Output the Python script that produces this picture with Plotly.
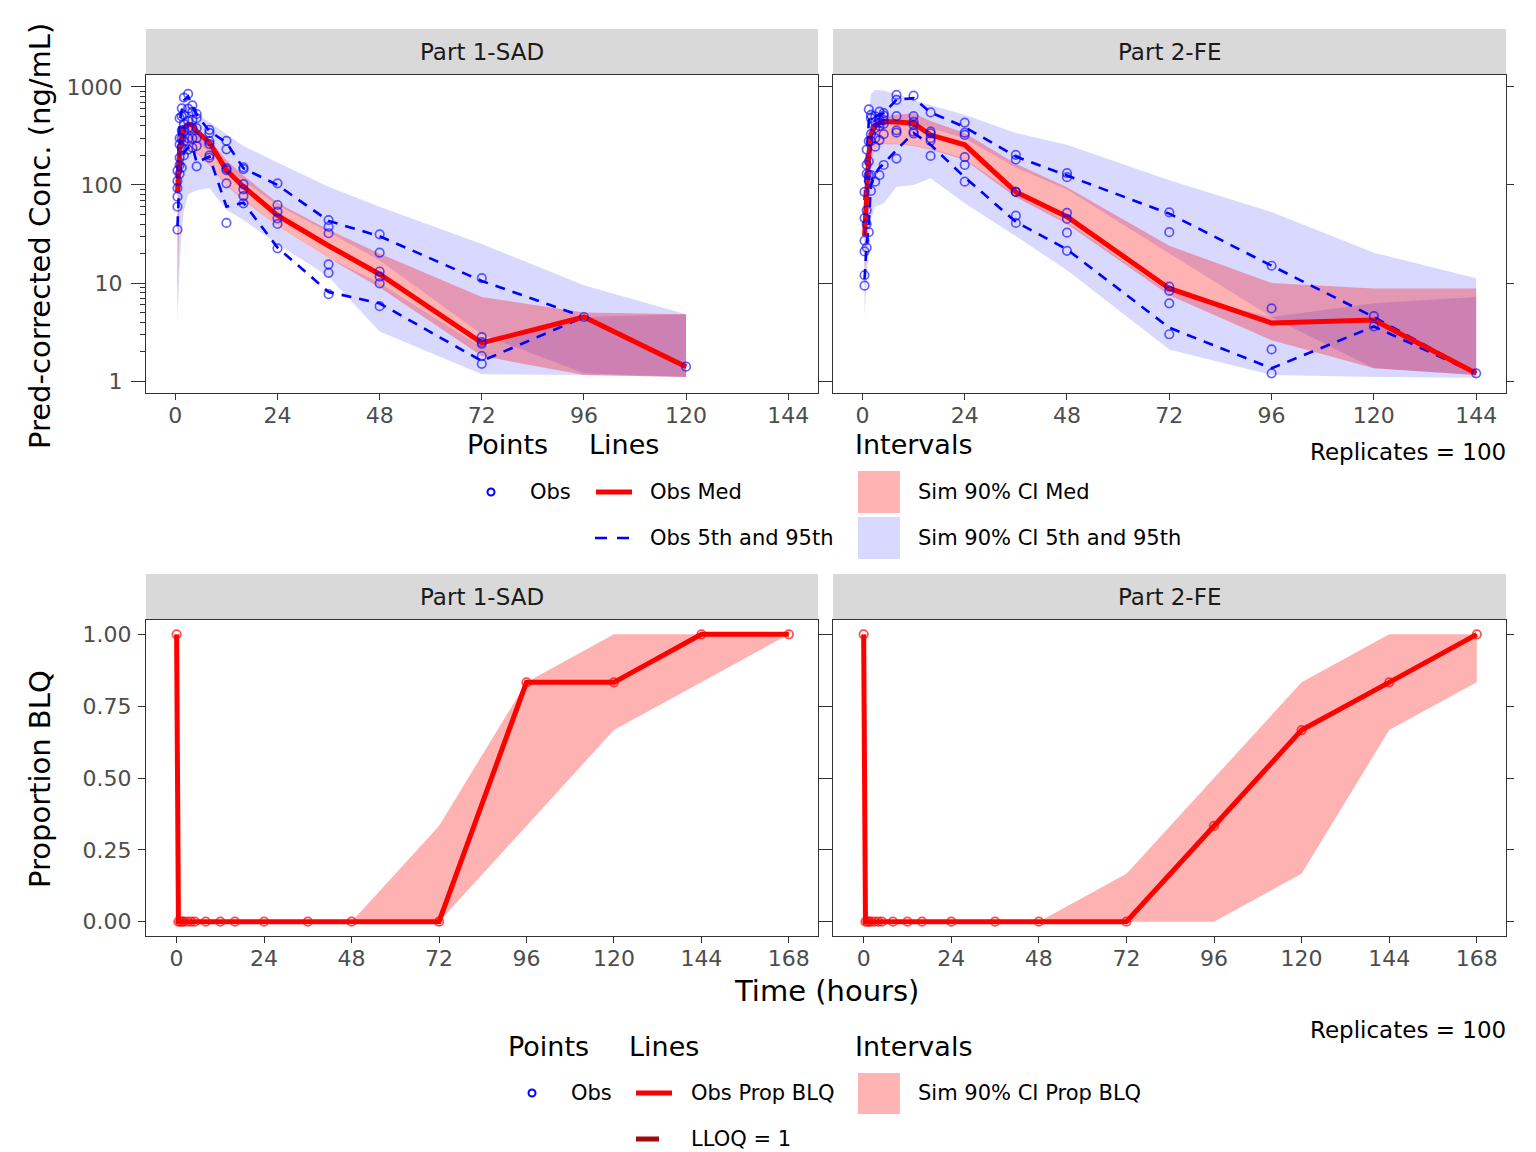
import plotly.graph_objects as go

W, H = 1536, 1152
FONT = "DejaVu Sans"

# ---------------- data: Part 1-SAD (observed) ----------------
p1_obs_times = [0.5, 1, 1.5, 2, 3, 4, 5, 8, 12, 16, 24, 36, 48, 72, 96, 120]
p1_obs_values = [
    [35, 60, 76, 93, 110, 140],
    [130, 160, 190, 260, 300, 480],
    [150, 240, 300, 360, 500, 605],
    [200, 280, 350, 420, 520, 780],
    [230, 300, 380, 450, 600, 850],
    [240, 300, 380, 460, 560, 650],
    [155, 250, 300, 380, 480, 530],
    [190, 200, 262, 280, 340, 365],
    [41, 104, 142, 148, 231, 282],
    [65, 77, 90, 102, 145, 151],
    [22.6, 40, 45.7, 53.5, 62.5, 104],
    [7.7, 12.7, 15.5, 32.2, 37.5, 43.8],
    [5.8, 9.9, 11.6, 13.1, 20.4, 31.4],
    [1.5, 1.8, 2.4, 2.5, 2.8, 11.2],
    [4.5],
    [1.4],
]
p1_obs_med = [85, 225, 330, 385, 415, 410, 355, 271, 142, 96, 49, 24, 12.3, 2.45, 4.5, 1.4]
p1_obs_q95 = [135, 420, 580, 730, 800, 640, 520, 355, 270, 148, 100, 43, 30, 10.5, 4.5, 1.4]
p1_obs_q5 = [38, 135, 170, 215, 240, 250, 170, 195, 60, 66, 23, 8.1, 6.2, 1.6, 4.5, 1.4]

# simulated 90% CIs, Part 1
p1_sim_times = [0.5, 1, 1.5, 2, 3, 4, 5, 8, 12, 16, 24, 36, 48, 72, 96, 120]
p1_hi95 = [200, 450, 600, 680, 650, 600, 540, 440, 330, 250, 170, 96, 60, 25, 9.5, 4.8]
p1_lo95 = [70, 160, 230, 280, 300, 290, 270, 220, 150, 110, 62, 33, 17, 3.0, 1.2, 1.1]
p1_hi50 = [140, 250, 320, 360, 390, 380, 360, 290, 180, 125, 66, 35, 20, 7.2, 5.0, 4.8]
p1_lo50 = [6, 80, 140, 190, 230, 220, 210, 160, 98, 70, 38, 18, 9, 1.8, 1.15, 1.1]
p1_hi5 = [45, 120, 170, 210, 230, 225, 215, 165, 100, 72, 38, 18, 10, 2.2, 4.5, 4.8]
p1_lo5 = [4, 15, 35, 55, 80, 85, 88, 93, 56, 44, 25, 11.6, 3.2, 1.17, 1.15, 1.1]

# ---------------- data: Part 2-FE (observed) ----------------
p2_obs_times = [0.5, 1, 1.5, 2, 3, 4, 5, 8, 12, 16, 24, 36, 48, 72, 96, 120, 144]
p2_obs_values = [
    [9.4, 12, 21, 27, 46, 85],
    [23, 40, 55, 130, 160, 230],
    [33, 110, 126, 174, 280, 590],
    [87, 126, 280, 330, 480, 520],
    [108, 246, 300, 380, 440, 500],
    [126, 287, 400, 430, 460, 560],
    [160, 330, 420, 460, 510, 540],
    [186, 342, 361, 505, 740, 830],
    [335, 350, 410, 440, 505, 815],
    [198, 282, 300, 335, 350, 550],
    [108, 160, 192, 324, 342, 433],
    [41, 48.6, 85, 85, 182, 203],
    [21.3, 32.6, 45, 52, 120, 132],
    [3.0, 6.2, 8.3, 9.2, 33, 52.6],
    [1.2, 2.1, 5.5, 15],
    [3.6, 4.6],
    [1.2],
]
p2_obs_med = [30, 90, 200, 330, 400, 430, 444, 440, 426, 323, 257, 85, 47.5, 8.8, 3.9, 4.2, 1.2]
p2_obs_q95 = [70, 200, 450, 520, 500, 520, 540, 740, 770, 550, 390, 195, 125, 51, 15, 4.5, 1.2]
p2_obs_q5 = [11, 25, 40, 100, 130, 150, 165, 228, 340, 257, 120, 42, 22, 3.5, 1.35, 3.6, 1.2]

p2_sim_times = [0.5, 1, 1.5, 2, 3, 4, 5, 8, 12, 16, 24, 36, 48, 72, 96, 120, 144]
p2_hi95 = [60, 250, 550, 850, 930, 930, 920, 850, 740, 650, 520, 340, 257, 112, 53, 20.4, 11.2]
p2_lo95 = [25, 80, 200, 330, 400, 420, 430, 420, 430, 380, 300, 150, 90, 20, 4.5, 1.35, 1.15]
p2_hi50 = [40, 110, 250, 400, 480, 500, 500, 520, 540, 450, 340, 165, 95, 24, 10, 8.8, 8.8]
p2_lo50 = [8, 40, 110, 180, 230, 260, 260, 260, 250, 230, 180, 75, 40, 7.5, 2.6, 1.35, 1.15]
p2_hi5 = [20, 60, 120, 185, 235, 265, 265, 265, 255, 235, 185, 80, 42, 8, 4.5, 6.2, 7.2]
p2_lo5 = [4.5, 10, 25, 45, 60, 62, 65, 96, 100, 117, 65, 30, 13.5, 2.1, 1.15, 1.1, 1.08]

# ---------------- data: proportion BLQ ----------------
blq_times = [0, 0.5, 1, 1.5, 2, 3, 4, 5, 8, 12, 16, 24, 36, 48, 72, 96, 120, 144, 168]
p1_blq = [1, 0, 0, 0, 0, 0, 0, 0, 0, 0, 0, 0, 0, 0, 0, 0.833, 0.833, 1.0, 1.0]
p2_blq = [1, 0, 0, 0, 0, 0, 0, 0, 0, 0, 0, 0, 0, 0, 0, 0.333, 0.667, 0.833, 1.0]
blq_sim_times = [0.5, 1, 1.5, 2, 3, 4, 5, 8, 12, 16, 24, 36, 48, 72, 96, 120, 144, 168]
p1_blq_hi = [0, 0, 0, 0, 0, 0, 0, 0, 0, 0, 0, 0, 0, 0.333, 0.833, 1.0, 1.0, 1.0]
p1_blq_lo = [0, 0, 0, 0, 0, 0, 0, 0, 0, 0, 0, 0, 0, 0, 0.333, 0.667, 0.833, 1.0]
p2_blq_hi = [0, 0, 0, 0, 0, 0, 0, 0, 0, 0, 0, 0, 0, 0.167, 0.5, 0.833, 1.0, 1.0]
p2_blq_lo = [0, 0, 0, 0, 0, 0, 0, 0, 0, 0, 0, 0, 0, 0, 0, 0.167, 0.667, 0.833]

panel_titles = ["Part 1-SAD", "Part 2-FE"]
conc_ticks = [1, 10, 100, 1000]
conc_minor_ticks = [m * d for d in (1, 10, 100) for m in range(2, 10)]
time_ticks_top = [0, 24, 48, 72, 96, 120, 144]
time_ticks_bottom = [0, 24, 48, 72, 96, 120, 144, 168]
prop_ticks = [0, 0.25, 0.5, 0.75, 1.0]

# ---------------- styles ----------------
BLUE_FILL = "rgba(0,0,255,0.15)"
RED_FILL = "rgba(255,0,0,0.3)"
PT_COLOR = "rgba(0,0,255,0.62)"
RED = "#ff0000"
TICKC = "#4d4d4d"
TICK_SIZE = 22


def px(x):
    return x / W


def py(y):
    return 1 - y / H


fig = go.Figure()


def ribbon(xs, hi, lo, color, xa, ya):
    fig.add_trace(go.Scatter(
        x=list(xs) + list(xs)[::-1], y=list(hi) + list(lo)[::-1],
        fill="toself", fillcolor=color, line=dict(width=0), mode="lines",
        hoverinfo="skip", showlegend=False, xaxis=xa, yaxis=ya))


def top_panel(xa, ya, st, hi95, lo95, hi50, lo50, hi5, lo5, ot, ov, med, q95, q5):
    ribbon(st, hi95, lo95, BLUE_FILL, xa, ya)
    ribbon(st, hi5, lo5, BLUE_FILL, xa, ya)
    ribbon(st, hi50, lo50, RED_FILL, xa, ya)
    for q in (q95, q5):
        fig.add_trace(go.Scatter(x=ot, y=q, mode="lines",
                                 line=dict(color="#0000ff", width=2.6, dash="10px,8px"),
                                 showlegend=False, xaxis=xa, yaxis=ya))
    fig.add_trace(go.Scatter(x=ot, y=med, mode="lines", line=dict(color=RED, width=5),
                             showlegend=False, xaxis=xa, yaxis=ya))
    xs, ys = [], []
    for t, vals in zip(ot, ov):
        for v in vals:
            xs.append(t)
            ys.append(v)
    fig.add_trace(go.Scatter(x=xs, y=ys, mode="markers",
                             marker=dict(symbol="circle-open", size=8.5, color=PT_COLOR,
                                         line=dict(width=1.7, color=PT_COLOR)),
                             showlegend=False, xaxis=xa, yaxis=ya))


top_panel("x", "y", p1_sim_times, p1_hi95, p1_lo95, p1_hi50, p1_lo50, p1_hi5, p1_lo5,
          p1_obs_times, p1_obs_values, p1_obs_med, p1_obs_q95, p1_obs_q5)
top_panel("x2", "y2", p2_sim_times, p2_hi95, p2_lo95, p2_hi50, p2_lo50, p2_hi5, p2_lo5,
          p2_obs_times, p2_obs_values, p2_obs_med, p2_obs_q95, p2_obs_q5)


def blq_panel(xa, ya, hi, lo, obs):
    ribbon(blq_sim_times, hi, lo, RED_FILL, xa, ya)
    fig.add_trace(go.Scatter(x=blq_times, y=obs, mode="lines+markers",
                             line=dict(color=RED, width=5),
                             marker=dict(symbol="circle-open", size=8.5, color="rgba(255,0,0,0.7)",
                                         line=dict(width=1.7, color="rgba(255,0,0,0.7)")),
                             showlegend=False, xaxis=xa, yaxis=ya))


blq_panel("x3", "y3", p1_blq_hi, p1_blq_lo, p1_blq)
blq_panel("x4", "y4", p2_blq_hi, p2_blq_lo, p2_blq)

# invisible trace so the overlaying minor-tick axis is drawn
fig.add_trace(go.Scatter(x=[p1_obs_times[0]], y=[p1_obs_med[0]], mode="markers",
                         marker=dict(size=1, opacity=0), hoverinfo="skip",
                         showlegend=False, xaxis="x", yaxis="y5"))

# ---------------- axes ----------------
L1, R1 = 146, 818
L2, R2 = 833, 1506
T_TOP, B_TOP = 75, 393
T_BOT, B_BOT = 620, 936

common_x = dict(showgrid=False, zeroline=False, showline=True, linecolor="#333333", linewidth=1.1,
                mirror=True, ticks="outside", ticklen=6, tickwidth=1.1, tickcolor="#333333",
                tickfont=dict(family=FONT, size=TICK_SIZE, color=TICKC))
common_y = dict(showgrid=False, zeroline=False, showline=True, linecolor="#333333", linewidth=1.1,
                mirror="ticks", ticks="outside", ticklen=7, tickwidth=1.1, tickcolor="#333333",
                tickfont=dict(family=FONT, size=TICK_SIZE, color=TICKC))

xr_top = [-6.9, 151.0]
xr_bot = [-8.4, 176.0]
yr_top = [-0.122, 3.122]
yr_bot = [-0.05, 1.05]

fig.update_layout(
    xaxis=dict(common_x, domain=[px(L1), px(R1)], anchor="y", range=xr_top,
               tickvals=time_ticks_top, ticklabelstandoff=-3),
    xaxis2=dict(common_x, domain=[px(L2), px(R2)], anchor="y2", range=xr_top,
                tickvals=time_ticks_top, ticklabelstandoff=-3),
    yaxis=dict(common_y, domain=[py(B_TOP), py(T_TOP)], anchor="x", type="log", range=yr_top,
               tickvals=conc_ticks, ticktext=[str(v) for v in conc_ticks], ticklen=14,
               ticklabelstandoff=4),
    yaxis5=dict(overlaying="y", anchor="x", side="left", type="log", range=yr_top,
                tickvals=conc_minor_ticks, showticklabels=False, ticks="outside", ticklen=5,
                tickwidth=1.1, tickcolor="#333333", showline=False, showgrid=False,
                zeroline=False),
    yaxis2=dict(common_y, domain=[py(B_TOP), py(T_TOP)], anchor="x2", type="log", range=yr_top,
                tickvals=conc_ticks, showticklabels=False),
    xaxis3=dict(common_x, domain=[px(L1), px(R1)], anchor="y3", range=xr_bot,
                tickvals=time_ticks_bottom, ticklabelstandoff=-3),
    xaxis4=dict(common_x, domain=[px(L2), px(R2)], anchor="y4", range=xr_bot,
                tickvals=time_ticks_bottom, ticklabelstandoff=-3),
    yaxis3=dict(common_y, domain=[py(B_BOT), py(T_BOT)], anchor="x3", range=yr_bot,
                tickvals=prop_ticks, ticktext=["%.2f" % v for v in prop_ticks],
                ticklabelstandoff=2),
    yaxis4=dict(common_y, domain=[py(B_BOT), py(T_BOT)], anchor="x4", range=yr_bot,
                tickvals=prop_ticks, showticklabels=False),
)

# ---------------- strips, titles, legends ----------------
shapes = []
annotations = []


def text(s, x, y, size, anchor="left", color="#000000", angle=0):
    if anchor == "left":
        x -= 2
    elif anchor == "right":
        x += 2
    annotations.append(dict(text=s, x=px(x), y=py(y), xref="paper", yref="paper",
                            xanchor=anchor, yanchor="middle", showarrow=False, textangle=angle,
                            font=dict(family=FONT, size=size, color=color)))


for (y0, y1) in [(29, 74), (574, 619)]:
    for (x0, x1), title in zip([(L1, R1), (L2, R2)], panel_titles):
        shapes.append(dict(type="rect", xref="paper", yref="paper", x0=px(x0), x1=px(x1),
                           y0=py(y1), y1=py(y0), fillcolor="#d9d9d9", line=dict(width=0),
                           layer="below"))
        text(title, (x0 + x1) / 2, (y0 + y1) / 2 + 0.5, 23, anchor="center", color="#1a1a1a")

text("Pred-corrected Conc. (ng/mL)", 40, 236, 29, anchor="center", angle=-90)
text("Proportion BLQ", 40, 779, 29, anchor="center", angle=-90)
text("Time (hours)", 826, 991, 29, anchor="center")


def line_key(x0, x1, y, color, width, dash="solid"):
    shapes.append(dict(type="line", xref="paper", yref="paper", x0=px(x0), x1=px(x1),
                       y0=py(y), y1=py(y), line=dict(color=color, width=width, dash=dash)))


def rect_key(x0, x1, y0, y1, color):
    shapes.append(dict(type="rect", xref="paper", yref="paper", x0=px(x0), x1=px(x1),
                       y0=py(y1), y1=py(y0), fillcolor=color, line=dict(width=0)))


def circle_key(cx, cy, r=3.5):
    shapes.append(dict(type="circle", xref="paper", yref="paper", x0=px(cx - r), x1=px(cx + r),
                       y0=py(cy + r), y1=py(cy - r), line=dict(color="#0000ff", width=2)))


LEG_T = 27
LEG_L = 21
REP = 23

# top legend
text("Points", 467, 444, LEG_T)
text("Lines", 589, 444, LEG_T)
text("Intervals", 855, 444, LEG_T)
text("Replicates = 100", 1506, 452, REP, anchor="right")
circle_key(491, 492)
text("Obs", 530, 492, LEG_L)
line_key(596, 632, 492, RED, 5)
text("Obs Med", 650, 492, LEG_L)
line_key(595, 633, 538, "#0000ff", 2.6, "12px,10px")
text("Obs 5th and 95th", 650, 538, LEG_L)
rect_key(858, 900, 471, 513, "#ffb3b3")
text("Sim 90% CI Med", 918, 492, LEG_L)
rect_key(858, 900, 517, 559, "#d9d9ff")
text("Sim 90% CI 5th and 95th", 918, 538, LEG_L)

# bottom legend
text("Points", 508, 1046, LEG_T)
text("Lines", 629, 1046, LEG_T)
text("Intervals", 855, 1046, LEG_T)
text("Replicates = 100", 1506, 1030, REP, anchor="right")
circle_key(532, 1093)
text("Obs", 571, 1093, LEG_L)
line_key(636, 672, 1093, RED, 5)
text("Obs Prop BLQ", 691, 1093, LEG_L)
line_key(636, 659, 1139, "#a00a0a", 5)
text("LLOQ = 1", 691, 1139, LEG_L)
rect_key(858, 900, 1073, 1114, "#ffb3b3")
text("Sim 90% CI Prop BLQ", 918, 1093, LEG_L)

fig.update_layout(
    width=W, height=H, margin=dict(l=0, r=0, t=0, b=0),
    paper_bgcolor="white", plot_bgcolor="white", showlegend=False,
    shapes=shapes, annotations=annotations,
    font=dict(family=FONT),
)

fig.write_html("out.html", config={"displayModeBar": False},
               post_script="document.body.style.margin='0';document.body.style.overflow='hidden';")
